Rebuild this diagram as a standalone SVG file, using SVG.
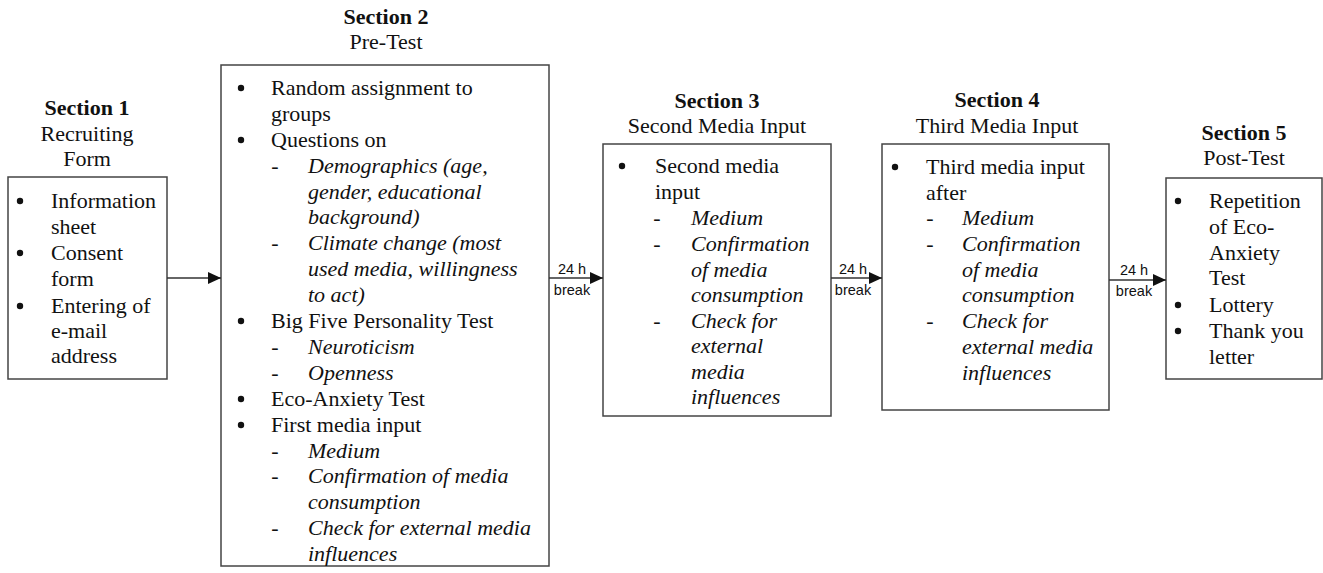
<svg xmlns="http://www.w3.org/2000/svg" width="1323" height="573" viewBox="0 0 1323 573">
<style>
.bg{fill:#fff}
.box{fill:#fff;stroke:#444;stroke-width:1.5}
.t{font-family:"Liberation Serif","Times New Roman",serif;font-size:22px;fill:#111}
.i{font-style:italic}
.b{font-weight:bold}
.m{text-anchor:middle}
.bu{fill:#111}
.s{font-family:"Liberation Sans",Arial,sans-serif;font-size:14.5px;fill:#111;text-anchor:middle}
.c{stroke:#333;stroke-width:1.3;fill:none}
</style>
<defs>
<marker id="ah" markerWidth="14" markerHeight="12" refX="13" refY="6" orient="auto" markerUnits="userSpaceOnUse">
<path d="M0,0 L13,6 L0,12 z" fill="#111"/>
</marker>
<circle id="dot" r="3.2" class="bu"/>
</defs>
<rect class="bg" x="0" y="0" width="1323" height="573"/>

<g id="section1">
<text class="t b m" x="87" y="115">Section 1</text>
<text class="t m" x="87" y="141">Recruiting</text>
<text class="t m" x="87" y="166">Form</text>
<rect class="box" x="8" y="177" width="159" height="202"/>
<use href="#dot" x="20" y="201"/><text class="t" x="51" y="208">Information</text>
<text class="t" x="51" y="234">sheet</text>
<use href="#dot" x="20" y="253"/><text class="t" x="51" y="260">Consent</text>
<text class="t" x="51" y="286">form</text>
<use href="#dot" x="20" y="306"/><text class="t" x="51" y="313">Entering of</text>
<text class="t" x="51" y="338">e-mail</text>
<text class="t" x="51" y="363">address</text>
</g>

<g id="section2">
<text class="t b m" x="386" y="24">Section 2</text>
<text class="t m" x="386" y="49">Pre-Test</text>
<rect class="box" x="221" y="65" width="328" height="501"/>
<use href="#dot" x="241" y="88"/><text class="t" x="271" y="95">Random assignment to</text>
<text class="t" x="271" y="121">groups</text>
<use href="#dot" x="241" y="140"/><text class="t" x="271" y="147">Questions on</text>
<text class="t m" x="275" y="173">-</text><text class="t i" x="308" y="173">Demographics (age,</text>
<text class="t i" x="308" y="199">gender, educational</text>
<text class="t i" x="308" y="224">background)</text>
<text class="t m" x="275" y="250">-</text><text class="t i" x="308" y="250">Climate change (most</text>
<text class="t i" x="308" y="276">used media, willingness</text>
<text class="t i" x="308" y="302">to act)</text>
<use href="#dot" x="241" y="321"/><text class="t" x="271" y="328">Big Five Personality Test</text>
<text class="t m" x="275" y="354">-</text><text class="t i" x="308" y="354">Neuroticism</text>
<text class="t m" x="275" y="380">-</text><text class="t i" x="308" y="380">Openness</text>
<use href="#dot" x="241" y="399"/><text class="t" x="271" y="406">Eco-Anxiety Test</text>
<use href="#dot" x="241" y="425"/><text class="t" x="271" y="432">First media input</text>
<text class="t m" x="275" y="458">-</text><text class="t i" x="308" y="458">Medium</text>
<text class="t m" x="275" y="483">-</text><text class="t i" x="308" y="483">Confirmation of media</text>
<text class="t i" x="308" y="509">consumption</text>
<text class="t m" x="275" y="535">-</text><text class="t i" x="308" y="535">Check for external media</text>
<text class="t i" x="308" y="561">influences</text>
</g>

<g id="section3">
<text class="t b m" x="717" y="108">Section 3</text>
<text class="t m" x="717" y="133">Second Media Input</text>
<rect class="box" x="603" y="144" width="228" height="272"/>
<use href="#dot" x="622" y="166"/><text class="t" x="655" y="173">Second media</text>
<text class="t" x="655" y="199">input</text>
<text class="t m" x="657" y="225">-</text><text class="t i" x="691" y="225">Medium</text>
<text class="t m" x="657" y="251">-</text><text class="t i" x="691" y="251">Confirmation</text>
<text class="t i" x="691" y="277">of media</text>
<text class="t i" x="691" y="302">consumption</text>
<text class="t m" x="657" y="328">-</text><text class="t i" x="691" y="328">Check for</text>
<text class="t i" x="691" y="353">external</text>
<text class="t i" x="691" y="379">media</text>
<text class="t i" x="691" y="404">influences</text>
</g>

<g id="section4">
<text class="t b m" x="997" y="107">Section 4</text>
<text class="t m" x="997" y="133">Third Media Input</text>
<rect class="box" x="882" y="144" width="227" height="266"/>
<use href="#dot" x="895" y="167"/><text class="t" x="926" y="174">Third media input</text>
<text class="t" x="926" y="200">after</text>
<text class="t m" x="930" y="225">-</text><text class="t i" x="962" y="225">Medium</text>
<text class="t m" x="930" y="251">-</text><text class="t i" x="962" y="251">Confirmation</text>
<text class="t i" x="962" y="277">of media</text>
<text class="t i" x="962" y="302">consumption</text>
<text class="t m" x="930" y="328">-</text><text class="t i" x="962" y="328">Check for</text>
<text class="t i" x="962" y="354">external media</text>
<text class="t i" x="962" y="380">influences</text>
</g>

<g id="section5">
<text class="t b m" x="1244" y="140">Section 5</text>
<text class="t m" x="1244" y="165">Post-Test</text>
<rect class="box" x="1166" y="178" width="156" height="201"/>
<use href="#dot" x="1178" y="201"/><text class="t" x="1209" y="208">Repetition</text>
<text class="t" x="1209" y="234">of Eco-</text>
<text class="t" x="1209" y="260">Anxiety</text>
<text class="t" x="1209" y="285">Test</text>
<use href="#dot" x="1178" y="305"/><text class="t" x="1209" y="312">Lottery</text>
<use href="#dot" x="1178" y="331"/><text class="t" x="1209" y="338">Thank you</text>
<text class="t" x="1209" y="364">letter</text>
</g>

<g id="connectors">
<line class="c" x1="167" y1="278" x2="221" y2="278" marker-end="url(#ah)"/>
<line class="c" x1="549" y1="278" x2="603" y2="278" marker-end="url(#ah)"/>
<text class="s" x="572" y="274">24 h</text>
<text class="s" x="572" y="295">break</text>
<line class="c" x1="831" y1="278" x2="882" y2="278" marker-end="url(#ah)"/>
<text class="s" x="853" y="274">24 h</text>
<text class="s" x="853" y="295">break</text>
<line class="c" x1="1109" y1="280" x2="1166" y2="280" marker-end="url(#ah)"/>
<text class="s" x="1134" y="275">24 h</text>
<text class="s" x="1134" y="296">break</text>
</g>
</svg>
